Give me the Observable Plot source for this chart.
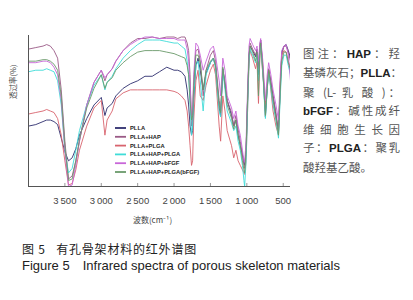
<!DOCTYPE html>
<html><head><meta charset="utf-8">
<script src="https://cdn.jsdelivr.net/npm/d3@7"></script>
<script src="https://cdn.jsdelivr.net/npm/@observablehq/plot@0.6"></script>
<style>
body{margin:0;background:#fff;font-family:"Liberation Sans",Arial,sans-serif;}
#wrap{position:relative;width:413px;height:300px;overflow:hidden;background:#fff;}
#chart{position:absolute;left:0;top:0;}
#note{position:absolute;left:303px;top:44px;width:97px;font-family:"Noto Sans CJK SC",sans-serif;font-size:11.5px;line-height:18.3px;color:#555;}
#note div{text-align:justify;text-align-last:justify;white-space:nowrap;}
#note b{font-family:"Liberation Sans",Arial,sans-serif;color:#222;font-weight:bold;}
#cap1{position:absolute;left:22px;top:240px;font-family:"Noto Sans CJK SC",sans-serif;font-size:12px;letter-spacing:0.8px;color:#222;white-space:nowrap;}
#cap2{position:absolute;left:22px;top:258px;font-family:"Liberation Sans",Arial,sans-serif;font-size:13px;color:#222;white-space:nowrap;}
</style></head>
<body><div id="wrap">
<div id="chart"></div>
<div id="note">
<div>图注：<b>HAP</b>：羟</div>
<div>基磷灰石；<b>PLLA</b>：</div>
<div>聚 (L- 乳 酸 )：</div>
<div><b>bFGF</b>：碱性成纤</div>
<div>维 细 胞 生 长 因</div>
<div>子：<b>PLGA</b>：聚乳</div>
<div style="text-align-last:left">酸羟基乙酸。</div>
</div>
<div id="cap1">图 5&nbsp;&nbsp;&nbsp;有孔骨架材料的红外谱图</div>
<div id="cap2">Figure 5<span style="display:inline-block;width:13px"></span>Infrared spectra of porous skeleton materials</div>
</div>
<script>
const wavenumbers = [4000,3900,3800,3750,3700,3650,3600,3550,3500,3450,3400,3350,3300,3200,3100,3000,2950,2920,2850,2800,2700,2600,2500,2400,2300,2200,2100,2000,1950,1900,1850,1820,1800,1780,1760,1745,1730,1700,1670,1640,1600,1560,1500,1460,1430,1380,1360,1330,1300,1270,1210,1180,1150,1120,1090,1060,1040,1030,1010,990,970,955,920,880,860,840,820,810,780,745,720,700,670,640,600,565,540,520,490,460,430,400];

const seriesNames = ["PLLA","PLLA+HAP","PLLA+PLGA","PLLA+HAP+PLGA","PLLA+HAP+bFGF","PLLA+HAP+PLGA(bFGF)"];
const seriesColors = ["#2e2d6e","#9a5a86","#d8646e","#3fdcd8","#c866d8","#6a9a6a"];

const tPLLA = [40,41,43,44,44,43,41,32,23,17, 19,25,34,45,54,59,47,52,55,60, 65,68,70,73,73,76,79,77,77,76, 73,64,54,40,34,37,57,80,85,77, 64,75,82,85,80,52,47,78,67,57, 47,40,44,34,27,21,16,14,24,57, 87,93,90,86,90,74,93,97,78,46, 65,77,69,60,47,36,67,89,93,94,90,85];
const tPLLA_HAP = [91,92,93,94,93,90,85,64,30,5, 7,17,30,54,69,77,70,74,78,83, 90,95,98,98,99,98,99,99,98,99, 99,95,90,74,40,44,70,90,91,83, 60,77,87,90,83,57,50,77,70,57, 49,40,47,38,30,21,14,12,24,57, 87,95,91,87,91,77,93,97,80,50, 67,78,70,60,49,37,67,87,93,93,89,83];
const tPLLA_PLGA = [48,49,50,51,50,49,45,34,17,1, 2,11,24,40,52,57,34,44,50,58, 62,64,64,64,64,64,64,63,62,60, 57,50,40,27,14,17,44,70,77,60, 57,67,77,81,74,40,30,60,50,37, 27,19,24,17,14,11,9,8,17,50, 83,90,85,78,83,55,87,91,74,54, 67,77,64,50,40,34,70,87,90,89,83,78];
const tPLLA_HAP_PLGA = [76,77,77,78,77,76,70,54,24,9, 12,24,37,54,67,74,64,69,73,78, 85,90,94,97,97,97,96,95,95,93, 91,83,74,54,34,40,60,80,83,70, 50,74,82,85,78,50,46,77,64,50, 42,37,40,30,24,14,4,0,17,50, 83,91,87,82,87,70,90,93,75,45, 64,75,65,54,44,32,60,80,87,87,80,74];
const tPLLA_HAP_bFGF = [82,82,83,83,82,79,74,57,24,0, 1,14,30,54,69,77,72,74,78,83, 90,94,97,99,99,98,98,98,97,97, 97,91,83,67,47,50,74,95,93,87, 77,83,91,93,87,70,60,85,77,60, 52,45,50,40,34,24,17,16,30,64, 93,98,94,90,93,83,95,98,83,57, 74,82,74,64,54,44,74,90,93,94,87,70];
const tPLLA_HAP_PLGA_bFGF = [83,83,84,84,83,81,77,60,27,4, 5,17,31,52,65,74,65,69,72,77, 82,86,89,90,90,90,89,88,87,86, 85,80,74,57,44,47,67,87,87,82, 64,77,83,85,80,54,49,79,67,54, 45,38,44,34,27,17,11,9,24,57, 87,93,89,83,89,60,90,95,77,47, 65,77,67,57,45,34,64,83,89,89,82,77];

const xTicks = [3500,3000,2500,2000,1500,1000,500];
const xLabel = "波数(cm\u207B\u00B9)";
const yLabel = "透过率(%)";

const seriesValues = [tPLLA,tPLLA_HAP,tPLLA_PLGA,tPLLA_HAP_PLGA,tPLLA_HAP_bFGF,tPLLA_HAP_PLGA_bFGF];
const rows = seriesNames.flatMap((s,k)=> wavenumbers.map((w,i)=>({s, w, t: seriesValues[k][i]})));

const fmt = d => d >= 1000 ? String(Math.floor(d/1000)) + "\u2009" + String(d%1000).padStart(3,"0") : String(d);

const plot = Plot.plot({
  width: 295, height: 232,
  marginLeft: 28, marginRight: 5, marginTop: 35, marginBottom: 46,
  x: {domain:[4000,400], ticks: xTicks, tickFormat: fmt, tickSize: 0, tickPadding: 11, label: null},
  y: {domain:[0,100], axis: null},
  color: {domain: seriesNames, range: seriesColors},
  style: {fontFamily:"'Liberation Sans', Arial, sans-serif", fontSize:"9.5px", color:"#444", background:"transparent"},
  marks: [
    Plot.line(rows, {x:"w", y:"t", z:"s", stroke:"s", strokeWidth:1, strokeOpacity:0.9, clip:true}),
    Plot.ruleY([0], {stroke:"#555"}),
    Plot.ruleX([4000], {stroke:"#555"}),
    Plot.ruleX(xTicks, {y1:0, y2:2, stroke:"#999"}),
    Plot.text([xLabel], {text: d=>d, frameAnchor:"bottom", dy:36, dx:-7, fontSize:8, fill:"#444", fontFamily:"'Noto Sans CJK SC', sans-serif"}),
    Plot.text([yLabel], {text: d=>d, frameAnchor:"left", rotate:-90, dx:-15, dy:-12, fontSize:7.5, fill:"#444", fontFamily:"'Noto Sans CJK SC', sans-serif"})
  ]
});
document.getElementById("chart").appendChild(plot);

const color = plot.scale("color");
const svg = d3.select(plot);
const lg = svg.append("g").attr("transform","translate(115,128)").attr("text-anchor","start");
seriesNames.forEach((s,i)=>{
  const y = i*8.8;
  lg.append("line").attr("x1",0).attr("x2",11).attr("y1",y).attr("y2",y)
    .attr("stroke", color.apply(s)).attr("stroke-width",1.8);
  lg.append("text").attr("x",15).attr("y",y).attr("dy","0.35em").attr("text-anchor","start")
    .attr("font-size","5.8px").attr("font-weight","bold").attr("fill","#222")
    .attr("font-family","'Liberation Sans', Arial, sans-serif").text(s);
});
</script>
</body></html>
